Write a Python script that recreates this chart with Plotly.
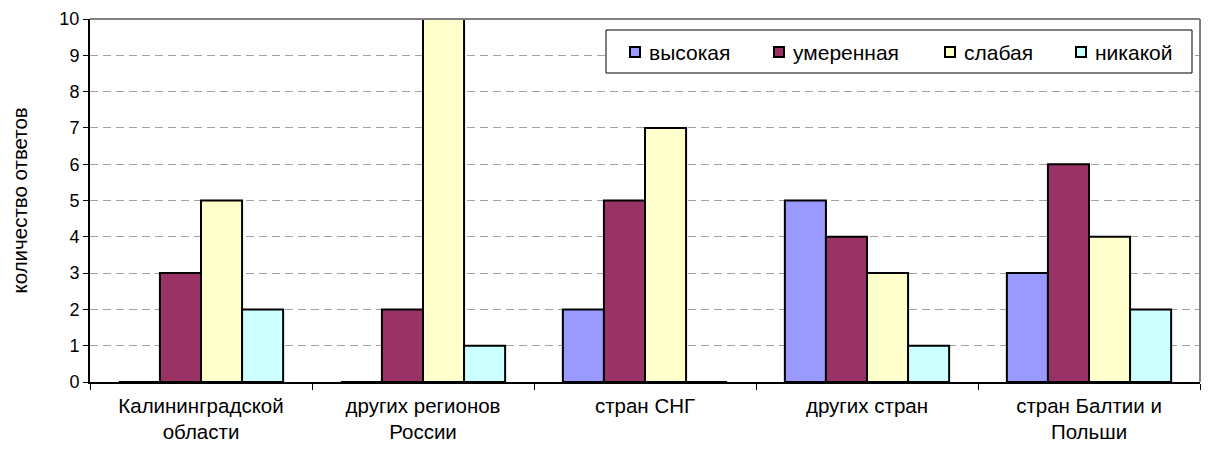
import plotly.graph_objects as go

categories = ["Калининградской<br>области", "других регионов<br>России", "стран СНГ",
              "других стран", "стран Балтии и<br>Польши"]
series_names = ["высокая", "умеренная", "слабая", "никакой"]
vysokaya = [0, 0, 2, 5, 3]
umerennaya = [3, 2, 5, 4, 6]
slabaya = [5, 10, 7, 3, 4]
nikakoy = [2, 1, 0, 1, 2]
series_values = [vysokaya, umerennaya, slabaya, nikakoy]
colors = ["#9999FF", "#993366", "#FFFFCC", "#CCFFFF"]
y_ticks = list(range(0, 11))

FONT = "Liberation Sans, Arial, sans-serif"

# plot-area geometry in pixels (used to place the legend box in paper units)
W, H = 1209, 449
L, R, T, B = 90, 9, 19, 67
PW, PH = W - L - R, H - T - B


def px_x(px):
    return (px - L) / PW


def px_y(py):
    return (H - B - py) / PH


fig = go.Figure()
for name, vals, col in zip(series_names, series_values, colors):
    fig.add_trace(go.Bar(
        name=name, x=categories, y=vals,
        marker=dict(color=col, line=dict(color="black", width=2)),
        showlegend=False,
    ))

shapes = [
    # grey frame on top and right of the plot area
    dict(type="line", xref="paper", yref="paper", x0=0, x1=1, y0=1, y1=1,
         line=dict(color="#808080", width=2), layer="above"),
    dict(type="line", xref="paper", yref="paper", x0=1, x1=1, y0=0, y1=1,
         line=dict(color="#808080", width=2), layer="above"),
    # legend box
    dict(type="rect", xref="paper", yref="paper",
         x0=px_x(606), x1=px_x(1192), y0=px_y(73), y1=px_y(30),
         line=dict(color="black", width=1), fillcolor="white", layer="above"),
]
annotations = []

# legend entries: small outlined squares followed by labels
swatch_left = [629, 773, 944, 1075]
for name, col, sx in zip(series_names, colors, swatch_left):
    shapes.append(dict(type="rect", xref="paper", yref="paper",
                       x0=px_x(sx + 1), x1=px_x(sx + 11), y0=px_y(57), y1=px_y(47),
                       line=dict(color="black", width=2), fillcolor=col, layer="above"))
    annotations.append(dict(text=name, xref="paper", yref="paper",
                            x=px_x(sx + 18), y=px_y(52), xanchor="left", yanchor="middle",
                            showarrow=False, font=dict(family=FONT, size=21, color="black")))

# y-axis title
annotations.append(dict(text="количество ответов", xref="paper", yref="paper",
                        x=px_x(19), y=0.5, xanchor="center", yanchor="middle",
                        textangle=-90, showarrow=False,
                        font=dict(family=FONT, size=20.5, color="black")))

fig.update_layout(
    width=W, height=H,
    margin=dict(l=L, r=R, t=T, b=B, autoexpand=False),
    paper_bgcolor="white", plot_bgcolor="white",
    barmode="group", bargap=0.26, bargroupgap=0,
    font=dict(family=FONT, size=20, color="black"),
    showlegend=False,
    xaxis=dict(
        showline=True, linecolor="black", linewidth=2, automargin=False,
        ticks="outside", ticklen=6, tickcolor="black", tickwidth=1, tickson="boundaries",
        showgrid=False, tickfont=dict(size=20.5), ticklabelstandoff=4,
    ),
    yaxis=dict(
        range=[0, 10], tickvals=y_ticks, showline=True, linecolor="black", linewidth=2,
        ticks="outside", ticklen=5, tickcolor="black", tickwidth=1, automargin=False,
        showgrid=True, gridcolor="#a0a0a0", griddash="8px,5px", gridwidth=1,
        zeroline=False, tickfont=dict(size=18),
    ),
    shapes=shapes,
    annotations=annotations,
)

fig.write_html("out.html")
